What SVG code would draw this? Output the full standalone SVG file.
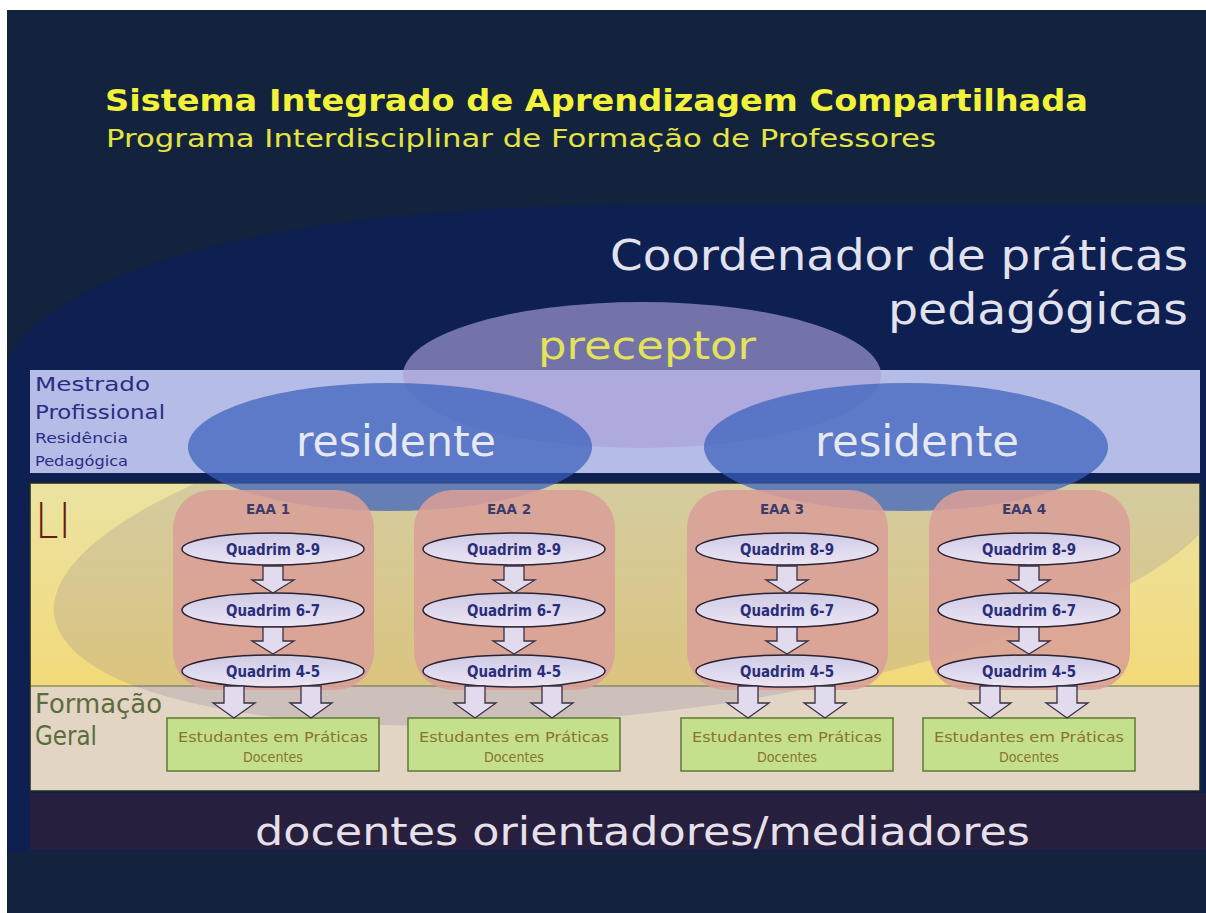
<svg xmlns="http://www.w3.org/2000/svg" width="1206" height="913" viewBox="0 0 1206 913">
  <defs>
    <linearGradient id="gLI" x1="0" y1="0" x2="0" y2="1">
      <stop offset="0" stop-color="#ebe3a2"/>
      <stop offset="1" stop-color="#f3da7a"/>
    </linearGradient>
    <linearGradient id="gQ" x1="0" y1="0" x2="0" y2="1">
      <stop offset="0" stop-color="#cfcbe6"/>
      <stop offset="1" stop-color="#ece6f4"/>
    </linearGradient>
    <clipPath id="clipLow"><rect x="30" y="483" width="1170" height="308"/></clipPath>
    <style>
      text{font-family:"DejaVu Sans","Noto Sans","Liberation Sans",sans-serif}
      .eaa{fill:#d99f99;fill-opacity:0.88}
      .eaa-lbl{font-size:13.5px;font-weight:700;fill:#3c3c6c;text-anchor:middle}
      .q{fill:url(#gQ);stroke:#2a2232;stroke-width:1.5}
      .q-lbl{font-size:15.5px;font-weight:700;fill:#2a2e7a;text-anchor:middle}
      .box{fill:#c4e08c;stroke:#5e7a34;stroke-width:1.5}
      .box-lbl{font-size:14px;fill:#8a7432;text-anchor:middle}
      .arr{fill:#e2dbee;stroke:#3a3044;stroke-width:1.3;stroke-linejoin:miter}
    </style>
  </defs>

  <!-- background -->
  <rect x="0" y="0" width="1206" height="913" fill="#ffffff"/>
  <rect x="7" y="10" width="1199" height="903" fill="#13233d"/>
  <path d="M7 360 C60 262 300 205 640 205 L1206 205 L1206 852 L7 852 Z" fill="#0e1f52"/>

  <!-- title -->
  <g id="title">
    <text x="105" y="111" font-size="30" font-weight="700" fill="#f2f23a" textLength="983" lengthAdjust="spacingAndGlyphs">Sistema Integrado de Aprendizagem Compartilhada</text>
    <text x="106" y="147" font-size="25" fill="#e4e444" textLength="830" lengthAdjust="spacingAndGlyphs">Programa Interdisciplinar de Formação de Professores</text>
  </g>

  <g id="coordenador">
    <text x="1188" y="270" font-size="43" fill="#e2e2ec" text-anchor="end" textLength="578" lengthAdjust="spacingAndGlyphs">Coordenador de práticas</text>
    <text x="1188" y="324" font-size="43" fill="#e2e2ec" text-anchor="end" textLength="300" lengthAdjust="spacingAndGlyphs">pedagógicas</text>
  </g>

  <!-- bands -->
  <g id="band-mestrado">
    <rect x="30" y="370" width="1170" height="103" fill="#b5bde6"/>
  </g>
  <g id="band-li">
    <rect x="30" y="483" width="1170" height="203" fill="url(#gLI)"/>
  </g>
  <g id="band-formacao">
    <rect x="30" y="686" width="1170" height="105" fill="#e2d5c3"/>
    <line x1="30" y1="686" x2="1200" y2="686" stroke="#5e6e3e" stroke-width="1.2"/>
    <rect x="30" y="483" width="1170" height="308" fill="none" stroke="#1e2a1e" stroke-width="1.5"/>
  </g>

  <!-- large translucent ellipse over LI / Formação -->
  <g id="big-ellipse" clip-path="url(#clipLow)">
    <ellipse cx="640" cy="545" rx="590" ry="168" transform="rotate(-6.8 640 545)" fill="#6e6496" fill-opacity="0.18"/>
  </g>

  <!-- docentes band -->
  <g id="docentes">
    <rect x="30" y="793" width="1176" height="57" fill="#271f3e"/>
    <text x="255" y="845" font-size="39" fill="#e6e0ea" textLength="775" lengthAdjust="spacingAndGlyphs">docentes orientadores/mediadores</text>
  </g>

  <!-- preceptor & residentes -->
  <g id="preceptor">
    <ellipse cx="642" cy="375" rx="239" ry="73" fill="#ab9fd8" fill-opacity="0.65"/>
    <text x="538" y="359" font-size="39" fill="#e3e35a" textLength="218" lengthAdjust="spacingAndGlyphs">preceptor</text>
  </g>
  <g id="residente-1">
    <ellipse cx="390" cy="447" rx="202" ry="64" fill="#3a60bc" fill-opacity="0.72"/>
    <text x="296" y="456" font-size="43" fill="#e6e8f2" textLength="200" lengthAdjust="spacingAndGlyphs">residente</text>
  </g>
  <g id="residente-2">
    <ellipse cx="906" cy="447" rx="202" ry="64" fill="#3a60bc" fill-opacity="0.72"/>
    <text x="815" y="456" font-size="43" fill="#e6e8f2" textLength="204" lengthAdjust="spacingAndGlyphs">residente</text>
  </g>

  <!-- band labels -->
  <g id="labels">
    <text x="35" y="391" font-size="20" fill="#2c2c86" textLength="115" lengthAdjust="spacingAndGlyphs">Mestrado</text>
    <text x="35" y="419" font-size="20" fill="#2c2c86" textLength="130" lengthAdjust="spacingAndGlyphs">Profissional</text>
    <text x="35" y="443" font-size="14" fill="#2c2c86" textLength="93" lengthAdjust="spacingAndGlyphs">Residência</text>
    <text x="35" y="466" font-size="14" fill="#2c2c86" textLength="93" lengthAdjust="spacingAndGlyphs">Pedagógica</text>
    <text x="35" y="538" font-size="50" font-weight="200" fill="#6b1a14" textLength="36" lengthAdjust="spacingAndGlyphs">LI</text>
    <text x="35" y="713" font-size="26" fill="#5c6c3c" textLength="127" lengthAdjust="spacingAndGlyphs">Formação</text>
    <text x="35" y="745" font-size="26" fill="#5c6c3c" textLength="62" lengthAdjust="spacingAndGlyphs">Geral</text>
  </g>

  <!-- EAA nodes -->
  <g id="eaa-1">
    <rect class="eaa" x="173" y="490" width="201" height="200" rx="38"/>
    <text class="eaa-lbl" x="268" y="514">EAA 1</text>
    <ellipse class="q" cx="273" cy="549" rx="91" ry="16"/>
    <text class="q-lbl" x="273" y="555" textLength="94" lengthAdjust="spacingAndGlyphs">Quadrim 8-9</text>
    <ellipse class="q" cx="273" cy="610" rx="91" ry="17"/>
    <text class="q-lbl" x="273" y="616" textLength="94" lengthAdjust="spacingAndGlyphs">Quadrim 6-7</text>
    <ellipse class="q" cx="273" cy="671" rx="91" ry="16"/>
    <text class="q-lbl" x="273" y="677" textLength="94" lengthAdjust="spacingAndGlyphs">Quadrim 4-5</text>
  </g>
  <g id="eaa-2">
    <rect class="eaa" x="414" y="490" width="201" height="200" rx="38"/>
    <text class="eaa-lbl" x="509" y="514">EAA 2</text>
    <ellipse class="q" cx="514" cy="549" rx="91" ry="16"/>
    <text class="q-lbl" x="514" y="555" textLength="94" lengthAdjust="spacingAndGlyphs">Quadrim 8-9</text>
    <ellipse class="q" cx="514" cy="610" rx="91" ry="17"/>
    <text class="q-lbl" x="514" y="616" textLength="94" lengthAdjust="spacingAndGlyphs">Quadrim 6-7</text>
    <ellipse class="q" cx="514" cy="671" rx="91" ry="16"/>
    <text class="q-lbl" x="514" y="677" textLength="94" lengthAdjust="spacingAndGlyphs">Quadrim 4-5</text>
  </g>
  <g id="eaa-3">
    <rect class="eaa" x="687" y="490" width="201" height="200" rx="38"/>
    <text class="eaa-lbl" x="782" y="514">EAA 3</text>
    <ellipse class="q" cx="787" cy="549" rx="91" ry="16"/>
    <text class="q-lbl" x="787" y="555" textLength="94" lengthAdjust="spacingAndGlyphs">Quadrim 8-9</text>
    <ellipse class="q" cx="787" cy="610" rx="91" ry="17"/>
    <text class="q-lbl" x="787" y="616" textLength="94" lengthAdjust="spacingAndGlyphs">Quadrim 6-7</text>
    <ellipse class="q" cx="787" cy="671" rx="91" ry="16"/>
    <text class="q-lbl" x="787" y="677" textLength="94" lengthAdjust="spacingAndGlyphs">Quadrim 4-5</text>
  </g>
  <g id="eaa-4">
    <rect class="eaa" x="929" y="490" width="201" height="200" rx="38"/>
    <text class="eaa-lbl" x="1024" y="514">EAA 4</text>
    <ellipse class="q" cx="1029" cy="549" rx="91" ry="16"/>
    <text class="q-lbl" x="1029" y="555" textLength="94" lengthAdjust="spacingAndGlyphs">Quadrim 8-9</text>
    <ellipse class="q" cx="1029" cy="610" rx="91" ry="17"/>
    <text class="q-lbl" x="1029" y="616" textLength="94" lengthAdjust="spacingAndGlyphs">Quadrim 6-7</text>
    <ellipse class="q" cx="1029" cy="671" rx="91" ry="16"/>
    <text class="q-lbl" x="1029" y="677" textLength="94" lengthAdjust="spacingAndGlyphs">Quadrim 4-5</text>
  </g>

  <!-- student boxes -->
  <g id="estudantes-1">
    <rect class="box" x="167" y="718" width="212" height="53"/>
    <text class="box-lbl" x="273" y="742" textLength="190" lengthAdjust="spacingAndGlyphs">Estudantes em Práticas</text>
    <text class="box-lbl" x="273" y="762" textLength="60" lengthAdjust="spacingAndGlyphs">Docentes</text>
  </g>
  <g id="estudantes-2">
    <rect class="box" x="408" y="718" width="212" height="53"/>
    <text class="box-lbl" x="514" y="742" textLength="190" lengthAdjust="spacingAndGlyphs">Estudantes em Práticas</text>
    <text class="box-lbl" x="514" y="762" textLength="60" lengthAdjust="spacingAndGlyphs">Docentes</text>
  </g>
  <g id="estudantes-3">
    <rect class="box" x="681" y="718" width="212" height="53"/>
    <text class="box-lbl" x="787" y="742" textLength="190" lengthAdjust="spacingAndGlyphs">Estudantes em Práticas</text>
    <text class="box-lbl" x="787" y="762" textLength="60" lengthAdjust="spacingAndGlyphs">Docentes</text>
  </g>
  <g id="estudantes-4">
    <rect class="box" x="923" y="718" width="212" height="53"/>
    <text class="box-lbl" x="1029" y="742" textLength="190" lengthAdjust="spacingAndGlyphs">Estudantes em Práticas</text>
    <text class="box-lbl" x="1029" y="762" textLength="60" lengthAdjust="spacingAndGlyphs">Docentes</text>
  </g>

  <!-- connectors -->
  <g id="connectors">
    <path class="arr" d="M263 566 H283 V580 H294 L273 593 L252 580 H263 Z"/>
    <path class="arr" d="M263 627 H283 V641 H294 L273 654 L252 641 H263 Z"/>
    <path class="arr" d="M224 686 H244 V703 H255 L234 718 L213 703 H224 Z"/>
    <path class="arr" d="M301 686 H321 V703 H332 L311 718 L290 703 H301 Z"/>

    <path class="arr" d="M504 566 H524 V580 H535 L514 593 L493 580 H504 Z"/>
    <path class="arr" d="M504 627 H524 V641 H535 L514 654 L493 641 H504 Z"/>
    <path class="arr" d="M465 686 H485 V703 H496 L475 718 L454 703 H465 Z"/>
    <path class="arr" d="M542 686 H562 V703 H573 L552 718 L531 703 H542 Z"/>

    <path class="arr" d="M777 566 H797 V580 H808 L787 593 L766 580 H777 Z"/>
    <path class="arr" d="M777 627 H797 V641 H808 L787 654 L766 641 H777 Z"/>
    <path class="arr" d="M738 686 H758 V703 H769 L748 718 L727 703 H738 Z"/>
    <path class="arr" d="M815 686 H835 V703 H846 L825 718 L804 703 H815 Z"/>

    <path class="arr" d="M1019 566 H1039 V580 H1050 L1029 593 L1008 580 H1019 Z"/>
    <path class="arr" d="M1019 627 H1039 V641 H1050 L1029 654 L1008 641 H1019 Z"/>
    <path class="arr" d="M980 686 H1000 V703 H1011 L990 718 L969 703 H980 Z"/>
    <path class="arr" d="M1057 686 H1077 V703 H1088 L1067 718 L1046 703 H1057 Z"/>
  </g>
</svg>
